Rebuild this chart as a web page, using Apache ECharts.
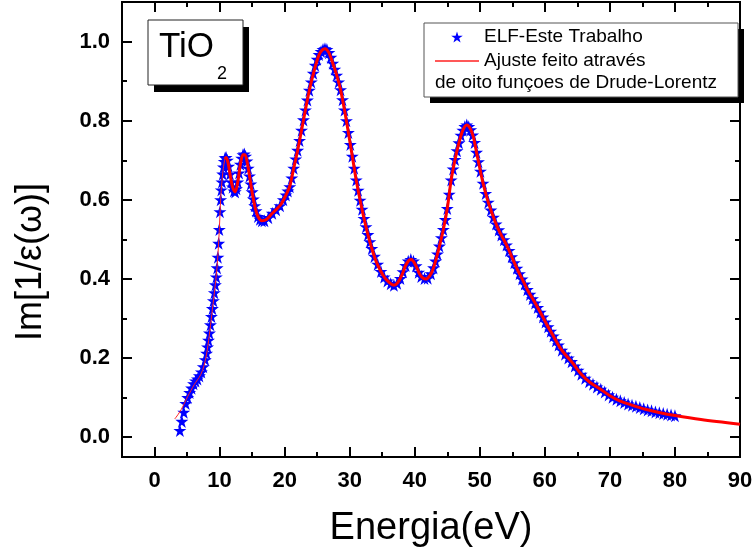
<!DOCTYPE html>
<html>
<head>
<meta charset="utf-8">
<script src="https://cdn.jsdelivr.net/npm/echarts@6/dist/echarts.min.js"></script>
<style>
  html, body { margin: 0; padding: 0; background: #fff; }
  #chart { width: 754px; height: 558px; }
</style>
</head>
<body>
<div id="chart"></div>
<script>
// Energy-loss function of TiO2: computed points and the Drude-Lorentz fit
const elfName = 'ELF-Este Trabalho';
const fitName = 'Ajuste feito através';
const fitNote = 'de oito funçoes de Drude-Lorentz';
const xTitle = 'Energia(eV)';
const yTitle = 'Im[1/ε(ω)]';

const xMin = -5, xMax = 90;
const yMin = -0.05, yMax = 1.1;
const xMajorTicks = [0, 10, 20, 30, 40, 50, 60, 70, 80, 90];
const xMinorTicks = [5, 15, 25, 35, 45, 55, 65, 75, 85];
const yMajorTicks = [0, 0.2, 0.4, 0.6, 0.8, 1.0];
const yMinorTicks = [0.1, 0.3, 0.5, 0.7, 0.9];

// computed ELF points (eV, Im[1/eps])
const elfEnergy = [
  3.9, 4.2, 4.5, 4.8, 5.1, 5.4, 5.7, 6.0, 6.3, 6.6, 6.9, 7.2, 7.5, 7.8,
  8.0, 8.15, 8.3, 8.45, 8.6, 8.75, 8.9, 9.05, 9.2, 9.35, 9.5, 9.62, 9.74, 9.86, 9.96, 10.06, 10.16, 10.26, 10.36, 10.48, 10.6, 10.72, 10.85, 11.0,
  11.2, 11.4, 11.6, 11.8, 12.0, 12.2, 12.4, 12.6, 12.8, 13.0, 13.2, 13.4, 13.6, 13.8, 14.0, 14.2, 14.4, 14.6, 14.8, 15.0, 15.2, 15.4, 15.6, 15.9, 16.2, 16.5,
  16.9, 17.5, 18.1, 18.7, 19.3, 19.8,
  20.2, 20.5, 20.8, 21.1, 21.4, 21.7, 22.0, 22.3, 22.6, 22.9, 23.2, 23.5, 23.8, 24.1, 24.4, 24.7, 25.0, 25.3, 25.6, 25.9, 26.2,
  26.5, 26.8, 27.1, 27.4, 27.7, 28.0, 28.3, 28.6, 28.9, 29.2, 29.5, 29.8, 30.1, 30.4, 30.7, 31.0, 31.3, 31.6, 31.9, 32.2, 32.5, 32.8, 33.1, 33.4, 33.8,
  34.3, 34.8, 35.3, 35.8, 36.3, 36.8, 37.3, 37.8, 38.2, 38.6, 39.0, 39.4, 39.8, 40.2, 40.6, 41.0, 41.5, 42.0, 42.5, 42.9,
  43.2, 43.5, 43.8, 44.1, 44.4, 44.7, 45.0, 45.3, 45.6, 45.9, 46.2, 46.5, 46.8, 47.1, 47.4, 47.7, 48.0, 48.3, 48.6, 48.9, 49.2, 49.5, 49.8, 50.1,
  50.5, 50.9, 51.3, 51.7, 52.1, 52.5, 52.9, 53.3, 53.7, 54.1, 54.5, 54.9, 55.3, 55.7, 56.1, 56.5, 56.9, 57.3, 57.7, 58.1, 58.5, 58.9, 59.3, 59.7, 60.1, 60.5, 60.9, 61.3, 61.7, 62.1,
  62.6, 63.1, 63.6, 64.1, 64.6, 65.1, 65.6, 66.2, 66.8, 67.4, 68.0, 68.6, 69.2, 69.8, 70.4, 71.0, 71.6, 72.2, 72.8, 73.4, 74.0, 74.6, 75.2, 75.8, 76.4, 77.0, 77.6, 78.2, 78.8, 79.4, 80.0
];
const elfValue = [
  0.017, 0.040, 0.063, 0.085, 0.100, 0.113, 0.124, 0.135, 0.142, 0.147, 0.155, 0.165, 0.178, 0.196,
  0.212, 0.228, 0.245, 0.263, 0.284, 0.305, 0.325, 0.345, 0.365, 0.385, 0.405, 0.428, 0.455, 0.490, 0.525, 0.570, 0.600, 0.625, 0.645, 0.665, 0.683, 0.697, 0.706, 0.707,
  0.700, 0.685, 0.665, 0.645, 0.632, 0.622, 0.620, 0.628, 0.645, 0.668, 0.690, 0.705, 0.714, 0.716, 0.710, 0.698, 0.680, 0.660, 0.640, 0.620, 0.602, 0.585, 0.572, 0.558, 0.551, 0.547,
  0.547, 0.555, 0.566, 0.575, 0.585, 0.600,
  0.612, 0.622, 0.633, 0.655, 0.680, 0.703, 0.725, 0.750, 0.776, 0.802, 0.827, 0.852, 0.877, 0.898, 0.920, 0.940, 0.955, 0.967, 0.975, 0.980, 0.982,
  0.980, 0.972, 0.960, 0.945, 0.930, 0.915, 0.898, 0.878, 0.853, 0.827, 0.800, 0.770, 0.740, 0.710, 0.680, 0.650, 0.624, 0.599, 0.576, 0.553, 0.532, 0.512, 0.494, 0.477, 0.457,
  0.437, 0.419, 0.405, 0.395, 0.388, 0.384, 0.389, 0.401, 0.418, 0.434, 0.445, 0.449, 0.445, 0.433, 0.417, 0.406, 0.401, 0.402, 0.413, 0.428,
  0.445, 0.463, 0.483, 0.504, 0.525, 0.550, 0.578, 0.614, 0.650, 0.678, 0.702, 0.724, 0.744, 0.763, 0.776, 0.785, 0.789, 0.785, 0.777, 0.764, 0.745, 0.720, 0.696, 0.672,
  0.642, 0.616, 0.594, 0.574, 0.556, 0.539, 0.524, 0.511, 0.499, 0.486, 0.472, 0.456, 0.441, 0.427, 0.413, 0.400, 0.387, 0.373, 0.361, 0.350, 0.339, 0.328, 0.316, 0.304, 0.291, 0.279, 0.268, 0.256, 0.244, 0.233,
  0.220, 0.210, 0.200, 0.191, 0.180, 0.169, 0.159, 0.149, 0.140, 0.134, 0.127, 0.121, 0.114, 0.107, 0.101, 0.096, 0.092, 0.088, 0.084, 0.081, 0.078, 0.075, 0.072, 0.069, 0.067, 0.064, 0.062, 0.060, 0.058, 0.056, 0.054
];

// sum of eight Drude-Lorentz oscillators, sampled along the energy axis
const fitEnergy = [
  3.1, 3.6, 4.1, 4.6, 5.1, 5.6, 6.1, 6.6, 7.1, 7.6, 8.0, 8.4, 8.8, 9.2, 9.6, 9.9, 10.2, 10.5, 10.8, 11.0,
  11.3, 11.6, 12.0, 12.4, 12.8, 13.2, 13.6, 13.9, 14.3, 14.7, 15.1, 15.5, 15.9, 16.5, 17.2, 18.0, 18.8, 19.5,
  20.2, 20.8, 21.4, 22.0, 22.8, 23.8, 24.6, 25.3, 25.8, 26.2, 26.8, 27.4, 28.0, 28.6, 29.2, 29.8, 30.4, 31.0,
  31.6, 32.2, 32.8, 33.4, 34.0, 34.7, 35.4, 36.1, 36.8, 37.4, 38.0, 38.6, 39.1, 39.5, 39.9, 40.3, 40.7, 41.2,
  41.8, 42.3, 42.8, 43.3, 43.8, 44.4, 45.0, 45.6, 46.2, 46.8, 47.4, 48.0, 48.5, 49.0, 49.5, 50.0, 50.5, 51.1,
  51.7, 52.4, 53.1, 53.8, 54.5, 55.2, 55.9, 56.6, 57.4, 58.2, 59.2, 60.3, 61.3, 62.3, 63.3, 64.4, 65.6, 66.9,
  68.5, 70.0, 71.5, 73.6, 75.6, 77.7, 80.0, 84.0, 90.0
];
const fitValue = [
  0.046, 0.057, 0.070, 0.086, 0.103, 0.118, 0.133, 0.145, 0.158, 0.180, 0.210, 0.255, 0.310, 0.365, 0.428, 0.505, 0.610, 0.670, 0.703, 0.707,
  0.694, 0.665, 0.632, 0.620, 0.645, 0.690, 0.714, 0.714, 0.690, 0.650, 0.610, 0.578, 0.558, 0.547, 0.550, 0.564, 0.577, 0.590,
  0.612, 0.635, 0.680, 0.725, 0.793, 0.877, 0.930, 0.967, 0.979, 0.982, 0.972, 0.945, 0.915, 0.878, 0.827, 0.770, 0.710, 0.650,
  0.599, 0.553, 0.512, 0.477, 0.447, 0.422, 0.403, 0.391, 0.384, 0.391, 0.409, 0.434, 0.447, 0.449, 0.442, 0.429, 0.414, 0.403,
  0.400, 0.408, 0.424, 0.451, 0.483, 0.525, 0.578, 0.650, 0.702, 0.744, 0.776, 0.789, 0.781, 0.760, 0.720, 0.680, 0.642, 0.605,
  0.574, 0.543, 0.517, 0.496, 0.472, 0.445, 0.420, 0.397, 0.370, 0.348, 0.319, 0.285, 0.256, 0.227, 0.206, 0.185, 0.159, 0.139,
  0.122, 0.105, 0.092, 0.080, 0.070, 0.062, 0.055, 0.045, 0.033
];
// the fit is drawn with a thin pen below this energy and a heavy pen above it
const fitPenSplit = 10.8;

const fontFamily = '"Liberation Sans", Arial, Helvetica, sans-serif';
const starPath = 'path://M50,0 L61.2,34.5 L97.6,34.5 L68.2,55.9 L79.4,90.5 L50,69.1 L20.6,90.5 L31.8,55.9 L2.4,34.5 L38.8,34.5 Z';

const elfPoints = elfEnergy.map((e, i) => [e, elfValue[i]]);
const fitPoints = fitEnergy.map((e, i) => [e, fitValue[i]]);
const fitThin = fitPoints.filter(p => p[0] <= fitPenSplit);
const fitThick = fitPoints.filter(p => p[0] >= fitPenSplit);

function frameAxis(isX, position, ticks, tickLen, withLabels, extra) {
  const ax = {
    type: 'value',
    position: position,
    min: isX ? xMin : yMin,
    max: isX ? xMax : yMax,
    axisLine: { show: true, onZero: false, lineStyle: { color: '#000', width: 2 } },
    axisTick: { show: true, inside: true, length: tickLen, customValues: ticks,
                lineStyle: { color: '#000', width: 2 } },
    axisLabel: { show: withLabels, customValues: ticks, color: '#000',
                 fontFamily: fontFamily, fontWeight: 'bold', fontSize: 22,
                 margin: isX ? 13 : 12,
                 formatter: v => isX ? String(Math.round(v)) : v.toFixed(1) },
    splitLine: { show: false },
    minorTick: { show: false },
    silent: true
  };
  return Object.assign(ax, extra || {});
}

const chart = echarts.init(document.getElementById('chart'), null, { renderer: 'canvas' });

chart.setOption({
  animation: false,
  backgroundColor: '#fff',
  grid: { left: 122, right: 14, top: 2, bottom: 101, containLabel: false, outerBoundsMode: 'none' },
  xAxis: [
    frameAxis(true, 'bottom', xMajorTicks, 10, true, {
      name: xTitle, nameLocation: 'middle', nameGap: 53,
      nameTextStyle: { fontFamily: fontFamily, fontSize: 38, color: '#000' }
    }),
    frameAxis(true, 'bottom', xMinorTicks, 5, false),
    frameAxis(true, 'top', xMajorTicks, 10, false),
    frameAxis(true, 'top', xMinorTicks, 5, false)
  ],
  yAxis: [
    frameAxis(false, 'left', yMajorTicks, 10, true),
    frameAxis(false, 'left', yMinorTicks, 5, false),
    frameAxis(false, 'right', yMajorTicks, 10, false),
    frameAxis(false, 'right', yMinorTicks, 5, false)
  ],
  legend: {
    z: 60,
    orient: 'vertical',
    left: 435,
    top: 27,
    itemWidth: 44,
    itemHeight: 11,
    itemGap: 4,
    padding: 0,
    selectedMode: false,
    textStyle: { fontFamily: fontFamily, fontSize: 19, color: '#000', lineHeight: 20 },
    data: [
      { name: elfName, icon: starPath, itemStyle: { color: '#0000ff' } },
      { name: fitName, icon: 'path://M0,0 L100,0 L100,3 L0,3 Z', itemStyle: { color: '#ff2020' } }
    ]
  },
  graphic: [
    // vertical axis title
    { type: 'text', z: 52, x: 31, y: 262, rotation: Math.PI / 2,
      style: { text: yTitle, font: '36px ' + fontFamily, fill: '#000',
               align: 'center', verticalAlign: 'middle' } },
    // TiO2 label box with drop shadow
    { type: 'rect', z: 50, shape: { x: 154, y: 27, width: 95, height: 65 }, style: { fill: '#000' } },
    { type: 'rect', z: 51, shape: { x: 148, y: 20, width: 95, height: 65 },
      style: { fill: '#fff', stroke: '#222', lineWidth: 1 } },
    { type: 'text', z: 52, left: 159, top: 30,
      style: { text: 'TiO', font: '35px ' + fontFamily, fill: '#000' } },
    { type: 'text', z: 52, left: 217, top: 65,
      style: { text: '2', font: '18px ' + fontFamily, fill: '#000' } },
    // legend frame with drop shadow
    { type: 'rect', z: 50, shape: { x: 430, y: 29, width: 314, height: 74 }, style: { fill: '#000' } },
    { type: 'rect', z: 51, shape: { x: 424, y: 23, width: 314, height: 74 },
      style: { fill: '#fff', stroke: '#555', lineWidth: 1 } },
    { type: 'text', z: 61, left: 435, top: 73,
      style: { text: fitNote, font: '19px ' + fontFamily, fill: '#000' } }
  ],
  series: [
    {
      name: elfName,
      type: 'scatter',
      data: elfPoints,
      symbol: starPath,
      symbolSize: 13,
      itemStyle: { color: '#0000ff', opacity: 1 },
      z: 3,
      silent: true
    },
    {
      name: fitName,
      type: 'line',
      data: fitThin,
      showSymbol: false,
      symbol: 'none',
      smooth: 0.3,
      lineStyle: { color: '#ff2020', width: 1 },
      itemStyle: { color: '#ff2020' },
      z: 4,
      silent: true
    },
    {
      name: fitName,
      type: 'line',
      data: fitThick,
      showSymbol: false,
      symbol: 'none',
      smooth: 0.3,
      lineStyle: { color: '#ff0000', width: 3 },
      itemStyle: { color: '#ff0000' },
      z: 4,
      silent: true
    }
  ]
});
</script>
</body>
</html>
